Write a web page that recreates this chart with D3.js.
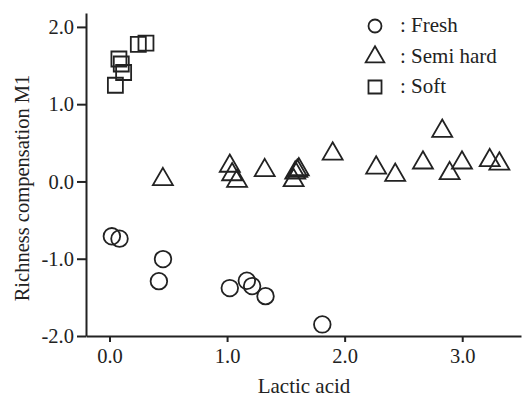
<!DOCTYPE html>
<html>
<head>
<meta charset="utf-8">
<script src="https://cdn.jsdelivr.net/npm/d3@7"></script>
<style>
  body { margin: 0; background: #fff; }
  svg { display: block; font-family: "Liberation Serif", "Times New Roman", serif; }
</style>
</head>
<body>
<svg id="chart" width="524" height="406"></svg>
<script>
// values
var freshX = [0.02, 0.085, 0.455, 0.42, 1.023, 1.168, 1.213, 1.327, 1.81];
var freshY = [-0.71, -0.74, -1.005, -1.29, -1.38, -1.285, -1.354, -1.484, -1.85];

var semiX = [0.454, 1.023, 1.043, 1.085, 1.32, 1.566, 1.58, 1.597, 1.61, 1.898,
             2.268, 2.43, 2.666, 2.83, 2.893, 2.998, 3.234, 3.316];
var semiY = [0.027, 0.20, 0.09, 0.005, 0.143, 0.013, 0.11, 0.135, 0.155, 0.358,
             0.177, 0.083, 0.242, 0.652, 0.104, 0.242, 0.272, 0.229];

var softX = [0.05, 0.08, 0.10, 0.12, 0.245, 0.31];
var softY = [1.245, 1.585, 1.52, 1.41, 1.775, 1.79];

var xTicks = [0, 1, 2, 3];
var yTicks = [-2, -1, 0, 1, 2];
var legendLabels = [': Fresh', ': Semi hard', ': Soft'];

var W = 524, H = 406;
var margin = { left: 86, top: 13, right: 3, bottom: 70 };

var x = d3.scaleLinear().domain([-0.2, 3.5]).range([margin.left, W - margin.right]);
var y = d3.scaleLinear().domain([-2, 2.18]).range([H - margin.bottom, margin.top]);

var svg = d3.select('#chart');
var fmt = function(d) { return d.toFixed(1); };

var xAxis = svg.append('g')
    .attr('transform', 'translate(0,' + (H - margin.bottom) + ')')
    .call(d3.axisBottom(x).tickValues(xTicks).tickFormat(fmt).tickSize(6).tickSizeOuter(0).tickPadding(6));
var yAxis = svg.append('g')
    .attr('transform', 'translate(' + margin.left + ',0)')
    .call(d3.axisLeft(y).tickValues(yTicks).tickFormat(fmt).tickSize(9).tickSizeOuter(0).tickPadding(3));

[xAxis, yAxis].forEach(function(ax) {
    ax.select('.domain').attr('stroke', '#222').attr('stroke-width', 2);
    ax.selectAll('.tick line').attr('stroke', '#222').attr('stroke-width', 2);
    ax.selectAll('.tick text').attr('fill', '#222')
        .style('font-family', '"Liberation Serif", serif').style('font-size', '20.5px');
});

svg.append('text')
    .attr('x', 304).attr('y', 393)
    .attr('text-anchor', 'middle')
    .attr('fill', '#222')
    .style('font-size', '21px')
    .text('Lactic acid');

svg.append('text')
    .attr('transform', 'translate(29,' + 188 + ') rotate(-90)')
    .attr('text-anchor', 'middle')
    .attr('fill', '#222')
    .style('font-size', '20.5px')
    .text('Richness compensation M1');

function drawSeries(xs, ys, type, size) {
    var sym = d3.symbol().type(type).size(size);
    svg.append('g').selectAll('path')
        .data(xs.map(function(v, i) { return [v, ys[i]]; }))
        .join('path')
        .attr('transform', function(d) { return 'translate(' + x(d[0]) + ',' + y(d[1]) + ')'; })
        .attr('d', sym)
        .attr('fill', 'none')
        .attr('stroke', '#222')
        .attr('stroke-width', 1.8);
}

drawSeries(freshX, freshY, d3.symbolCircle, Math.PI * 8.3 * 8.3);
drawSeries(semiX, semiY, d3.symbolTriangle, 173);
drawSeries(softX, softY, d3.symbolSquare, 225);

// legend
var legendTypes = [d3.symbolCircle, d3.symbolTriangle, d3.symbolSquare];
var legendSizes = [Math.PI * 6.5 * 6.5, 150, 170];
var legendRows = [26, 57, 87];
var legend = svg.append('g');
legendLabels.forEach(function(lab, i) {
    legend.append('path')
        .attr('transform', 'translate(375,' + legendRows[i] + ')')
        .attr('d', d3.symbol().type(legendTypes[i]).size(legendSizes[i]))
        .attr('fill', 'none')
        .attr('stroke', '#222')
        .attr('stroke-width', 1.8);
    legend.append('text')
        .attr('x', 400).attr('y', legendRows[i] + 6)
        .attr('fill', '#222')
        .style('font-size', '21px')
        .text(lab);
});
</script>
</body>
</html>
